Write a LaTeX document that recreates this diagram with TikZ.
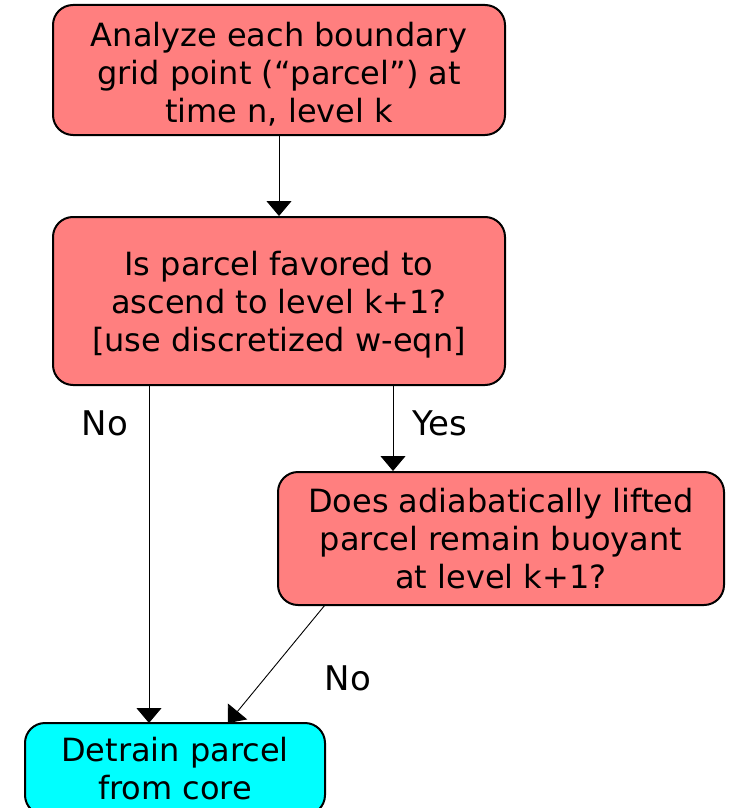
\documentclass[tikz,border=0pt]{standalone}
\usepackage{fontspec}
\setmainfont{DejaVu Sans}
\usetikzlibrary{arrows.meta}
\definecolor{salmon}{HTML}{FF7F7F}
\definecolor{aqua}{HTML}{00FFFF}
% #1 = extra height above first line (shifts text down by half of it)
\newcommand{\boxtext}[2]{\begin{tabular}{@{}c@{}}\rule{0pt}{\dimexpr 26.6pt+#1\relax}#2\end{tabular}}
\tikzset{
  box/.style={draw=black, line width=2pt, rounded corners=20pt, align=center, font=\fontsize{32}{38}\selectfont, inner sep=0pt},
  redbox/.style={box, fill=salmon},
  bluebox/.style={box, fill=aqua},
  conn/.style={line width=0.9pt, -{Triangle[length=15pt,width=25pt]}},
  lab/.style={font=\fontsize{34}{40}\selectfont, inner sep=0pt}
}
\begin{document}
\begin{tikzpicture}[x=1pt,y=-1pt]
\useasboundingbox (0,0) rectangle (736,808);
\clip (0,0) rectangle (736,808);
\node[redbox, minimum width=452pt, minimum height=130pt] (a) at (279,70) {\boxtext{14pt}{Analyze each boundary\\grid point (“parcel”) at\\time n, level k}};
\node[redbox, minimum width=452pt, minimum height=168pt] (b) at (279,301) {\boxtext{9pt}{Is parcel favored to\\ascend to level k+1?\\{}[use discretized w-eqn]}};
\node[redbox, minimum width=446pt, minimum height=133pt] (c) at (501,538.5) {Does adiabatically lifted\\parcel remain buoyant\\at level k+1?};
\node[bluebox, minimum width=300pt, minimum height=92pt] (d) at (175,769) {Detrain parcel\\from core};
\coordinate (d1) at (149,723);
\coordinate (d2) at (228,723);
\draw[conn] (a.south) -- (b.north);
\draw[conn] (b.south -| 393,0) -- (c.north -| 393,0);
\draw[conn] (b.south -| d1) -- (d1);
\draw[conn] (325,605) -- (d2);
\node[lab] (no1) at (105,423) {No};
\node[lab] (yes) at (440,423) {Yes};
\node[lab] (no2) at (348,678) {No};
\end{tikzpicture}
\end{document}
